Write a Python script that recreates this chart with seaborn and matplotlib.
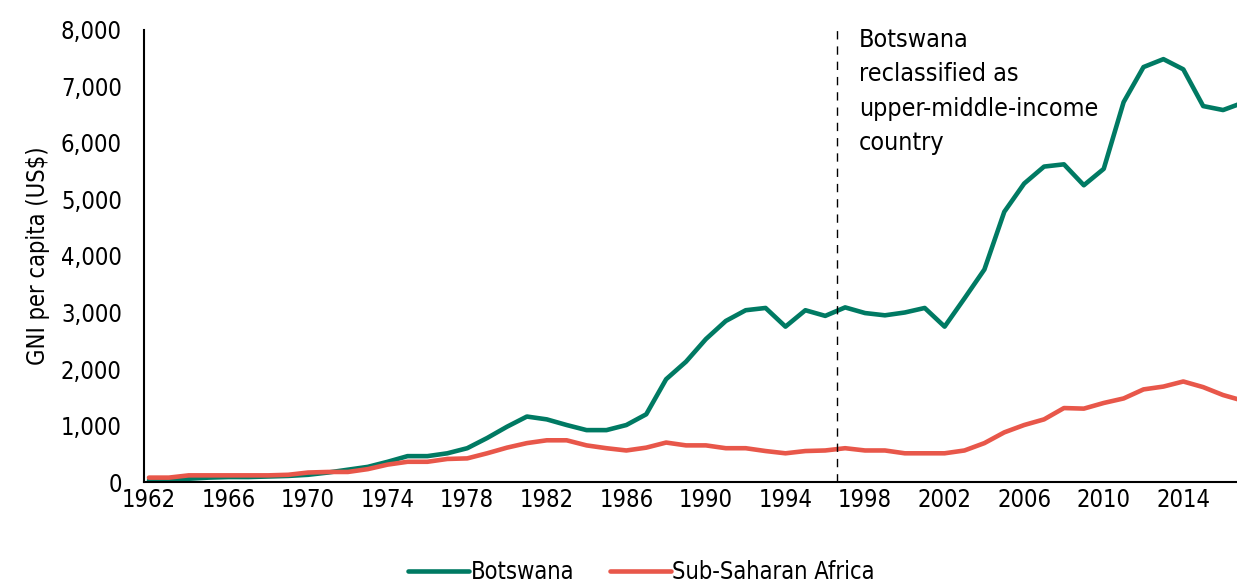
import numpy as np
import pandas as pd
import matplotlib
matplotlib.use("Agg")
import matplotlib.pyplot as plt
import seaborn as sns

# ==========================================
# DATA
# ==========================================

years = list(range(1962, 2018))

botswana = [
    30, 30, 60, 80, 90, 90, 100, 110, 130, 170,
    220, 270, 360, 460, 460, 510, 600, 780, 980, 1160,
    1110, 1010, 920, 920, 1010, 1200, 1820, 2130, 2530, 2850,
    3040, 3080, 2750, 3040, 2940, 3090, 2990, 2950, 3000, 3080,
    2750, 3250, 3760, 4780, 5280, 5580, 5620, 5250, 5540, 6720,
    7340, 7480, 7300, 6650, 6580, 6710
]

ssa = [
    80, 80, 120, 120, 120, 120, 120, 130, 170, 180,
    180, 230, 310, 360, 360, 410, 420, 510, 610, 690,
    740, 740, 650, 600, 560, 610, 700, 650, 650, 600,
    600, 550, 510, 550, 560, 600, 560, 560, 510, 510,
    510, 560, 690, 880, 1010, 1110, 1310, 1300, 1400, 1480,
    1640, 1690, 1780, 1680, 1540, 1440
]

series_names = ["Botswana", "Sub-Saharan Africa"]
colors = ["#007a63", "#e8574a"]
tick_years = list(range(1962, 2015, 4))
y_ticks = list(range(0, 8001, 1000))
note = "Botswana\nreclassified as\nupper-middle-income\ncountry"

df = pd.DataFrame({
    "Year": years * 2,
    "GNI": botswana + ssa,
    "Series": [series_names[0]] * len(years) + [series_names[1]] * len(years),
})

# ==========================================
# PLOT
# ==========================================

sns.set_style("white")
plt.rcParams["font.family"] = ["DejaVu Sans"]
plt.rcParams["font.stretch"] = "condensed"
plt.rcParams["text.color"] = "black"
plt.rcParams["axes.labelcolor"] = "black"
plt.rcParams["xtick.color"] = "black"
plt.rcParams["ytick.color"] = "black"

fig = plt.figure(figsize=(12.37, 5.83), dpi=100)
ax = fig.add_axes([0.1164, 0.173, 0.8836, 0.776])

sns.lineplot(
    data=df,
    x="Year",
    y="GNI",
    hue="Series",
    palette=colors,
    linewidth=3.3,
    ax=ax
)

ax.axvline(1996.6, color="black", linestyle=(0, (6, 5)), linewidth=1)
ax.text(1997.7, 8030, note, fontsize=18, va="top", ha="left", linespacing=1.55)

ax.set_xlim(1961.75, 2016.7)
ax.set_ylim(0, 8000)
ax.set_xticks(tick_years)
ax.set_yticks(y_ticks)
ax.set_yticklabels([f"{v:,}" for v in y_ticks])
ax.tick_params(axis="y", labelsize=17, length=0, pad=16)
ax.tick_params(axis="x", labelsize=17, length=0, pad=4)

ax.set_xlabel("")
ax.set_ylabel("GNI per capita (US$)", fontsize=17, labelpad=8)

for side in ["top", "right"]:
    ax.spines[side].set_visible(False)
for side in ["left", "bottom"]:
    ax.spines[side].set_color("black")
    ax.spines[side].set_linewidth(1.5)

ax.legend(
    loc="upper center",
    bbox_to_anchor=(0.455, -0.126),
    ncol=2,
    frameon=False,
    fontsize=17,
    handlelength=2.6,
    handletextpad=0.05,
    columnspacing=1.5
)

fig.savefig("out.png", dpi=100)
